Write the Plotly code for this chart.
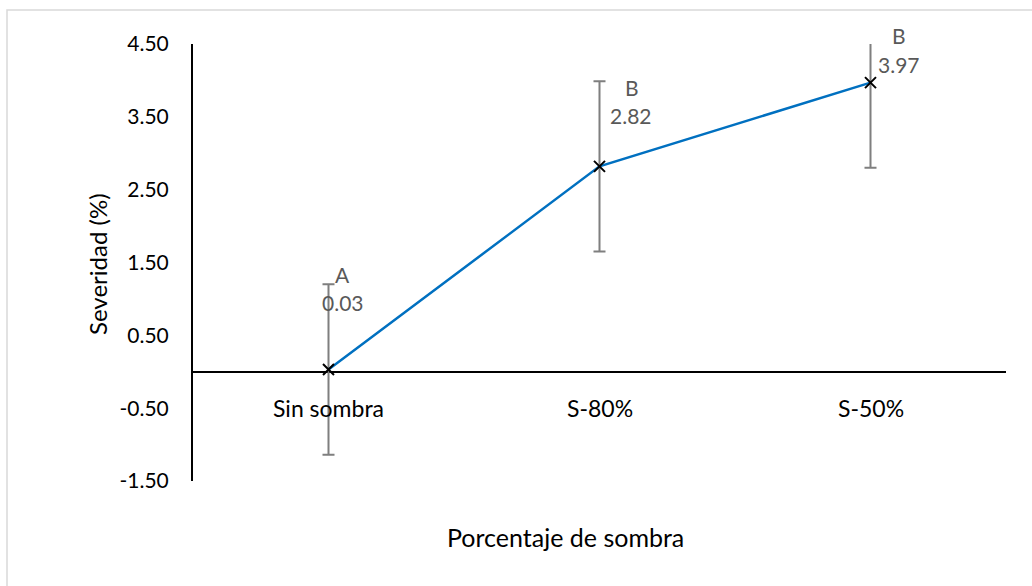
import plotly.graph_objects as go

# Data
categorias = ["Sin sombra", "S-80%", "S-50%"]
severidad = [0.03, 2.82, 3.97]
error_est = [1.17, 1.17, 1.17]
letras = ["A", "B", "B"]
y_ticks = [-1.5, -0.5, 0.5, 1.5, 2.5, 3.5, 4.5]
y_ticktext = ["-1.50", "-0.50", "0.50", "1.50", "2.50", "3.50", "4.50"]

FONT = "Lato"
L, R, T, B = 193, 26, 44, 105
W, H = 1032, 586
PW, PH = W - L - R, H - T - B


def px_x(x):
    return (x - L) / PW


def px_y(y):
    return (H - B - y) / PH


fig = go.Figure()

fig.add_trace(go.Scatter(
    x=list(range(len(categorias))),
    y=severidad,
    mode="lines+markers",
    line=dict(color="#0070C0", width=2.5),
    marker=dict(symbol="x-thin", size=11, color="black",
                line=dict(color="black", width=2)),
    error_y=dict(type="data", array=error_est, visible=True,
                 color="#7F7F7F", thickness=2, width=6),
    showlegend=False,
    hoverinfo="skip",
))

# Category labels sit next to the horizontal axis at y = 0
for i, c in enumerate(categorias):
    fig.add_annotation(x=i, y=0, xref="x", yref="y", text=c,
                       showarrow=False, yshift=-36,
                       font=dict(family=FONT, size=23, color="black"))

# Significance letters and mean labels above each point
letter_shift = [(14, 95), (32, 79), (28, 47)]
value_shift = [(14, 67), (31, 51), (28, 18)]
for i, (v, l) in enumerate(zip(severidad, letras)):
    fig.add_annotation(x=i, y=v, xref="x", yref="y", text=l,
                       showarrow=False, xshift=letter_shift[i][0],
                       yshift=letter_shift[i][1],
                       font=dict(family=FONT, size=21, color="#595959"))
    fig.add_annotation(x=i, y=v, xref="x", yref="y", text=f"{v:.2f}",
                       showarrow=False, xshift=value_shift[i][0],
                       yshift=value_shift[i][1],
                       font=dict(family=FONT, size=21, color="#595959"))

# Axis titles
fig.add_annotation(x=px_x(565), y=px_y(537), xref="paper", yref="paper",
                   xanchor="center", yanchor="middle",
                   text="Porcentaje de sombra", showarrow=False,
                   font=dict(family=FONT, size=25, color="black"))
fig.add_annotation(text="Severidad (%)", textangle=-90, showarrow=False,
                   x=px_x(97), y=px_y(264), xref="paper", yref="paper",
                   xanchor="center", yanchor="middle",
                   font=dict(family=FONT, size=24, color="black"))

# Outer chart frame
fig.add_shape(type="rect", xref="paper", yref="paper",
              x0=px_x(7), x1=px_x(1100), y0=px_y(650), y1=px_y(10),
              line=dict(color="#D9D9D9", width=1.5), layer="below")

fig.update_layout(
    width=W, height=H,
    margin=dict(l=L, r=R, t=T, b=B),
    paper_bgcolor="white", plot_bgcolor="white",
    font=dict(family=FONT, size=21, color="black"),
    xaxis=dict(range=[-0.5, 2.5], showgrid=False, zeroline=False,
               showline=False, showticklabels=False, ticks="",
               fixedrange=True),
    yaxis=dict(range=[-1.5, 4.5], tickmode="array", tickvals=y_ticks,
               ticktext=y_ticktext, showgrid=False, zeroline=True,
               zerolinecolor="black", zerolinewidth=2,
               showline=True, linecolor="black", linewidth=2,
               ticks="", ticklabelstandoff=18, fixedrange=True),
)

fig.write_html("out.html")
